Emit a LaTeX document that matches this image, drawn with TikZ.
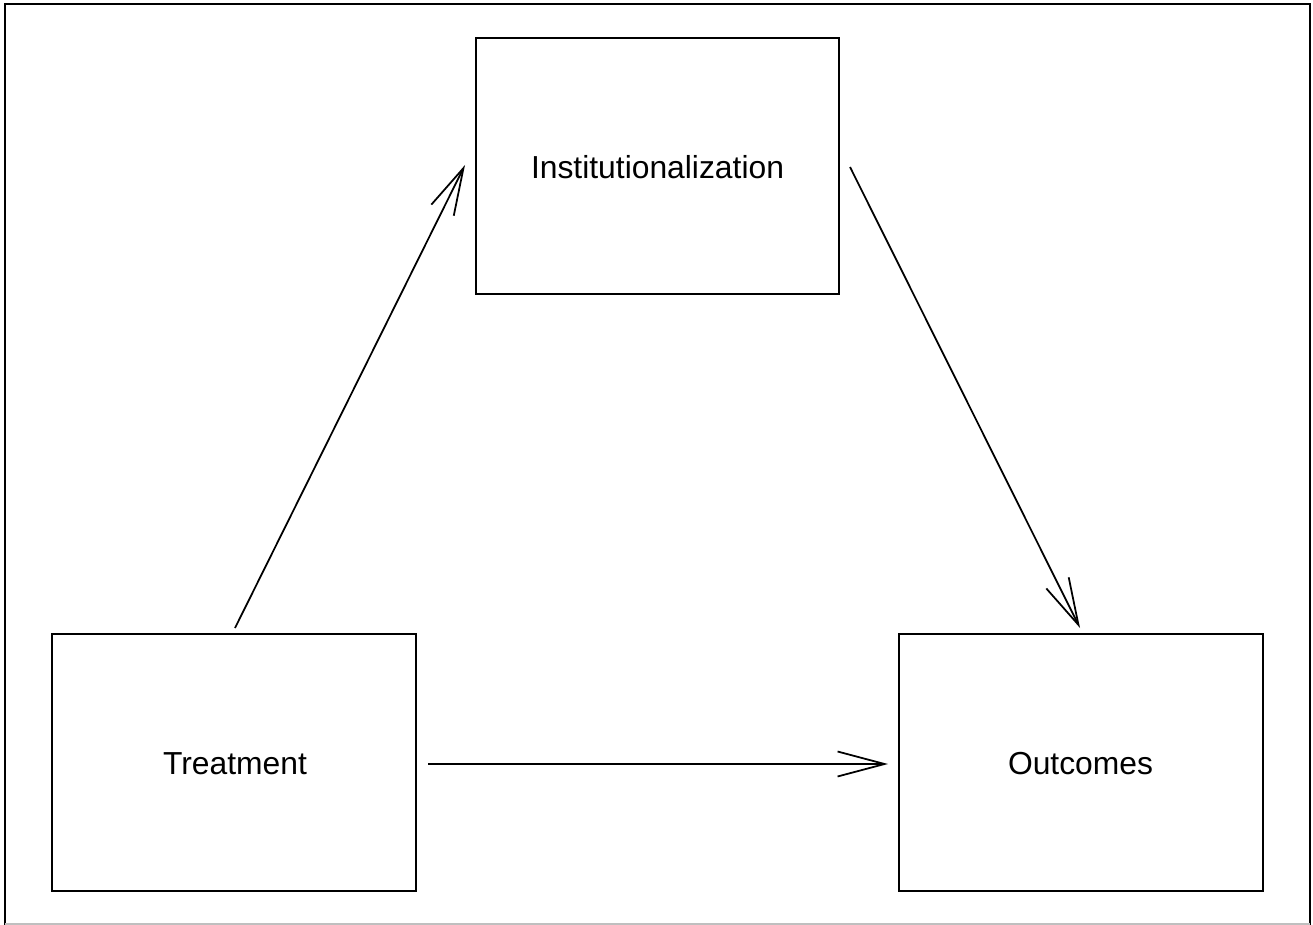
\documentclass[tikz,border=0pt]{standalone}
\usepackage{fontspec}
\setmainfont{Liberation Sans}
\usetikzlibrary{arrows.meta}
\begin{document}
\begin{tikzpicture}[x=0.01cm,y=-0.01cm,
  box/.style={draw,line width=0.6pt,minimum width=3.63cm,minimum height=2.56cm,inner sep=0pt,font=\fontsize{9.05}{11}\selectfont},
  conn/.style={line width=0.5pt,-{Straight Barb[length=0.47cm,width=0.25cm,line width=0.5pt]}}]
\useasboundingbox (0,0) rectangle (1313,925);
\draw[line width=0.8pt] (5,925) -- (5,4) -- (1310,4) -- (1310,925);
\draw[line width=0.6pt,black!25] (5,924.5) -- (1310,924.5);
\node[box] (inst) at (657.5,166) {};
\node[font=\fontsize{9.05}{11}\selectfont] (instl) at (657.5,167) {Institutionalization};
\node[box] (treat) at (234,762.5) {};
\node[font=\fontsize{9.05}{11}\selectfont] (treatl) at (235,764) {Treatment};
\node[box] (out) at (1081,762.5) {};
\node[font=\fontsize{9.05}{11}\selectfont] (outl) at (1080.5,764) {Outcomes};
\coordinate (a1) at (235,628);
\coordinate (a2) at (465,165);
\coordinate (b1) at (850,167);
\coordinate (b2) at (1080,628);
\coordinate (c1) at (428,764);
\coordinate (c2) at (888,764);
\draw[conn] (a1) -- (a2);
\draw[conn] (b1) -- (b2);
\draw[conn] (c1) -- (c2);
\end{tikzpicture}
\end{document}
